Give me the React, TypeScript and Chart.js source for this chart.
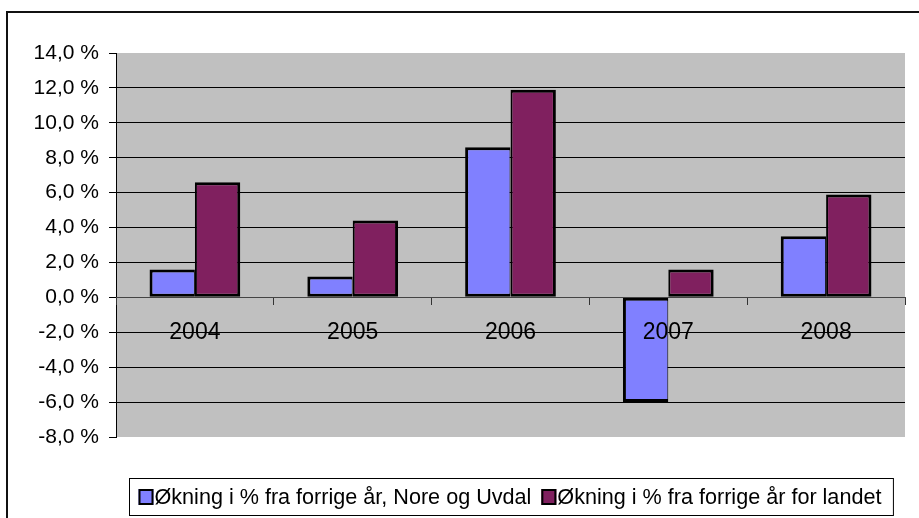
import React, { useEffect, useRef } from "react";
import { Chart, registerables } from "chart.js";

Chart.register(...registerables);

const categories = ["2004", "2005", "2006", "2007", "2008"];
const seriesNoreUvdal = [1.6, 1.2, 8.6, -6.0, 3.5];
const seriesLandet = [6.6, 4.4, 11.9, 1.6, 5.9];
const seriesLabels = [
  "Økning i % fra forrige år, Nore og Uvdal",
  "Økning i % fra forrige år for landet",
];
const yMin = -8;
const yMax = 14;
const yStep = 2;

const FONT = "'Liberation Sans', Arial, sans-serif";

const plotBg = {
  id: "plotBg",
  beforeDraw(chart: any) {
    const { ctx, chartArea } = chart;
    ctx.save();
    ctx.fillStyle = "#C0C0C0";
    ctx.fillRect(chartArea.left, chartArea.top, chartArea.right - chartArea.left, chartArea.bottom - chartArea.top);
    ctx.restore();
  },
};

const boxedLegend = {
  id: "boxedLegend",
  afterDraw(chart: any) {
    const { ctx, chartArea } = chart;
    const ds = chart.data.datasets;
    ctx.save();
    ctx.font = `21.6px ${FONT}`;
    const mW = 15, mH = 16, gapText = 1, gapItem = 10, padL = 9, padR = 12;
    const widths = ds.map((d: any) => ctx.measureText(d.label).width);
    let total = padL + padR;
    widths.forEach((w: number, i: number) => {
      total += mW + gapText + w + (i < widths.length - 1 ? gapItem : 0);
    });
    const cx = (chartArea.left + chartArea.right) / 2;
    const left = Math.round(cx - total / 2) + 0.5;
    const top = 478.5;
    const h = 37;
    ctx.fillStyle = "#fff";
    ctx.fillRect(left, top, total, h);
    ctx.strokeStyle = "#000";
    ctx.lineWidth = 1;
    ctx.strokeRect(left, top, total, h);
    let x = left + padL;
    const midY = top + h / 2;
    ds.forEach((d: any, i: number) => {
      ctx.fillStyle = d.backgroundColor;
      ctx.fillRect(x, midY - mH / 2, mW, mH);
      ctx.strokeStyle = "#000";
      ctx.lineWidth = 2;
      ctx.strokeRect(x + 1, midY - mH / 2 + 1, mW - 2, mH - 2);
      x += mW + gapText;
      ctx.fillStyle = "#000";
      ctx.textBaseline = "middle";
      ctx.textAlign = "left";
      ctx.fillText(d.label, x, midY + 1);
      x += widths[i] + gapItem;
    });
    ctx.restore();
  },
};

export default function App() {
  const ref = useRef<HTMLCanvasElement | null>(null);
  useEffect(() => {
    if (!ref.current) return;
    const chart = new Chart(ref.current, {
      type: "bar",
      data: {
        labels: categories,
        datasets: [
          {
            label: seriesLabels[0],
            data: seriesNoreUvdal,
            backgroundColor: "#8080FF",
            borderColor: "#000",
            borderWidth: { top: 3, bottom: 3, left: 3, right: 1 } as any,
            borderSkipped: false,
          },
          {
            label: seriesLabels[1],
            data: seriesLandet,
            backgroundColor: "#80205F",
            borderColor: "#000",
            borderWidth: { top: 3, bottom: 3, left: 2, right: 3 } as any,
            borderSkipped: false,
          },
        ],
      },
      options: {
        responsive: false,
        animation: false,
        layout: { padding: { left: 0, top: 53, right: 14, bottom: 81 } },
        datasets: { bar: { categoryPercentage: 0.575, barPercentage: 1 } },
        plugins: {
          legend: { display: false },
          tooltip: { enabled: false },
          title: { display: false },
        },
        scales: {
          x: {
            type: "category",
            position: { y: 0 } as any,
            grid: {
              drawOnChartArea: false,
              drawTicks: true,
              tickLength: 7,
              tickColor: "#333",
              offset: true,
              z: 1,
            },
            border: { display: true, color: "#444", width: 1, z: 1 },
            ticks: { color: "#000", font: { family: FONT, size: 23 }, padding: 14, maxRotation: 0, z: 1 },
          },
          y: {
            min: yMin,
            max: yMax,
            afterFit(scale: any) {
              scale.width = 116;
            },
            grid: {
              drawOnChartArea: true,
              drawTicks: true,
              tickLength: 7,
              tickColor: "#000",
              color: (c: any) =>
                c.tick && (c.tick.value === yMin || c.tick.value === yMax || c.tick.value === 0)
                  ? "rgba(0,0,0,0)"
                  : "#000",
            },
            border: { display: true, color: "#000", width: 1 },
            ticks: {
              stepSize: yStep,
              color: "#000",
              padding: 10,
              font: { family: FONT, size: 21 },
              callback: (v: any) => Number(v).toFixed(1).replace(".", ",") + " %",
            },
          },
        },
      },
      plugins: [plotBg, boxedLegend],
    });
    return () => chart.destroy();
  }, []);
  return (
    <div style={{ position: "fixed", left: 0, top: 0, width: 919, height: 518, background: "#fff", overflow: "hidden" }}>
      <div
        style={{
          position: "absolute",
          left: 6,
          top: 11,
          width: 1000,
          height: 600,
          border: "2px solid #111",
          boxSizing: "border-box",
        }}
      />
      <canvas ref={ref} width={919} height={518} style={{ position: "absolute", left: 0, top: 0 }} />
    </div>
  );
}
